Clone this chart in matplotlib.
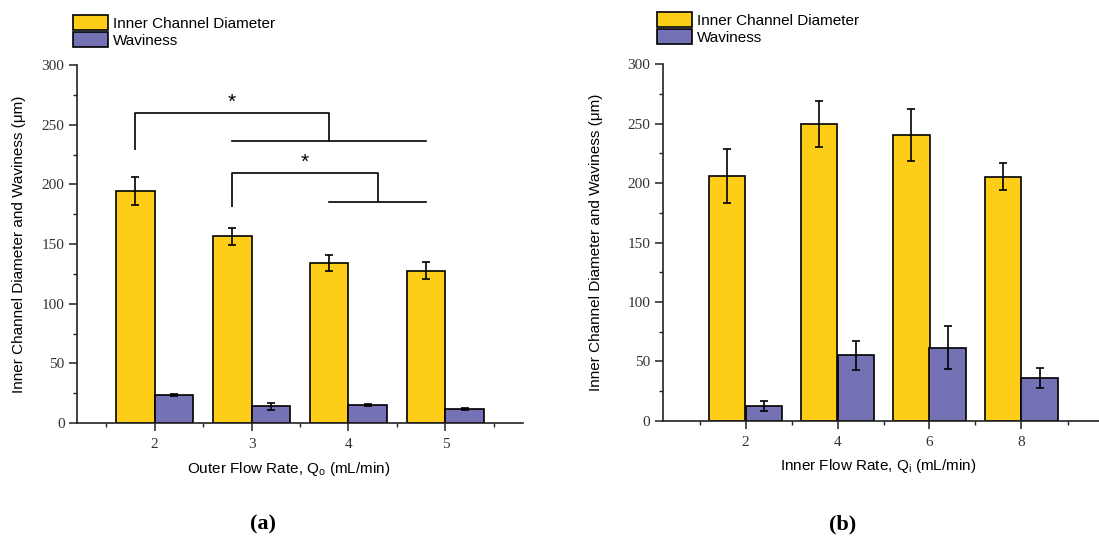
import matplotlib.pyplot as plt
import numpy as np
from matplotlib.ticker import MultipleLocator, FixedLocator

plt.rcParams['font.family'] = 'Liberation Sans'
plt.rcParams['mathtext.default'] = 'regular'

yellow = '#FDCD17'
purple = '#7471B4'

# panel (a): outer flow rate
outer_rate = [2, 3, 4, 5]
diam_a = [194.5, 156.5, 134, 127.5]
diam_a_err = [11.5, 7, 7, 7]
wavy_a = [23.3, 14, 15.2, 11.7]
wavy_a_err = [1, 3, 0.6, 1]

# panel (b): inner flow rate
inner_rate = [2, 4, 6, 8]
diam_b = [205.8, 249.7, 240.5, 205.4]
diam_b_err = [22.7, 19.3, 22, 11.2]
wavy_b = [12.4, 55, 61.5, 36]
wavy_b_err = [4.5, 12.5, 18, 8.5]

# significance brackets in (a)
brackets = [
    dict(x1=1.8, x2=3.8, top=260, left_low=229, grp=(2.8, 4.8), grp_y=236),
    dict(x1=2.8, x2=4.3, top=209.5, left_low=181, grp=(3.8, 4.8), grp_y=185.5),
]

fig = plt.figure(figsize=(10.99, 5.41), dpi=100)
W, H = 1099, 541

def style_axes(ax):
    for s in ['top', 'right']:
        ax.spines[s].set_visible(False)
    for s in ['left', 'bottom']:
        ax.spines[s].set_linewidth(1.2)
        ax.spines[s].set_color('#222222')
    ax.set_ylim(0, 300)
    ax.yaxis.set_major_locator(MultipleLocator(50))
    ax.yaxis.set_minor_locator(MultipleLocator(25))
    ax.tick_params(which='major', length=6, width=1.1, color='#222222',
                   labelsize=11, labelcolor='#333333', pad=3)
    ax.tick_params(which='minor', length=3, width=1.0, color='#222222')
    ax.tick_params(axis='x', which='major', pad=5)
    for lab in ax.get_xticklabels() + ax.get_yticklabels():
        lab.set_fontfamily('Liberation Serif')

def draw_bars(ax, x, d, de, w, we, width):
    x = np.array(x, dtype=float)
    ekw = dict(ecolor='black', elinewidth=1.2, capsize=3.2, capthick=1.2)
    b1 = ax.bar(x - width / 2, d, width, yerr=de, color=yellow,
                edgecolor='black', linewidth=1.2, error_kw=ekw,
                label='Inner Channel Diameter')
    b2 = ax.bar(x + width / 2, w, width, yerr=we, color=purple,
                edgecolor='black', linewidth=1.2, error_kw=ekw,
                label='Waviness')
    return b1, b2

# ---- (a)
ax1 = fig.add_axes([77 / W, (H - 423) / H, 446 / W, 358 / H])
draw_bars(ax1, outer_rate, diam_a, diam_a_err, wavy_a, wavy_a_err, 0.4)
ax1.set_xlim(1.2, 5.8)
ax1.xaxis.set_major_locator(FixedLocator(outer_rate))
ax1.xaxis.set_minor_locator(MultipleLocator(0.5))
style_axes(ax1)
ax1.set_ylabel('Inner Channel Diameter and Waviness (μm)', fontsize=11)
ax1.yaxis.set_label_coords(-0.114, 0.5)
ax1.set_xlabel('Outer Flow Rate, Q$_{o}$ (mL/min)', fontsize=11)
ax1.xaxis.set_label_coords(0.475, -0.103)

for br in brackets:
    ax1.plot([br['x1'], br['x1'], br['x2'], br['x2']],
             [br['left_low'], br['top'], br['top'], br['grp_y']],
             color='black', lw=1.2, solid_capstyle='butt')
    ax1.plot(br['grp'], [br['grp_y'], br['grp_y']], color='black', lw=1.2)
    ax1.text((br['x1'] + br['x2']) / 2, br['top'] + 1, '*', ha='center',
             va='bottom', fontsize=15)

ax1.legend(loc='upper left', bbox_to_anchor=(73 / W, 1 - 15 / H),
           bbox_transform=fig.transFigure, frameon=False, fontsize=11,
           borderpad=0, borderaxespad=0, handlelength=2.3, handleheight=1.1,
           labelspacing=0.1, handletextpad=0.3)

# ---- (b)
ax2 = fig.add_axes([662.7 / W, (H - 420.7) / H, 441.6 / W, 356.4 / H])
draw_bars(ax2, inner_rate, diam_b, diam_b_err, wavy_b, wavy_b_err, 0.8)
ax2.set_xlim(0.2, 9.8)
ax2.xaxis.set_major_locator(FixedLocator(inner_rate))
ax2.xaxis.set_minor_locator(MultipleLocator(1))
style_axes(ax2)
ax2.set_ylabel('Inner Channel Diameter and Waviness (μm)', fontsize=11)
ax2.yaxis.set_label_coords(-0.135, 0.5)
ax2.set_xlabel('Inner Flow Rate, Q$_{i}$ (mL/min)', fontsize=11)
ax2.xaxis.set_label_coords(0.488, -0.103)

ax2.legend(loc='upper left', bbox_to_anchor=(657 / W, 1 - 12 / H),
           bbox_transform=fig.transFigure, frameon=False, fontsize=11,
           borderpad=0, borderaxespad=0, handlelength=2.3, handleheight=1.1,
           labelspacing=0.1, handletextpad=0.3)

fig.text(263 / W, 1 - 524 / H, '(a)', ha='center', va='center',
         fontsize=16, family='Liberation Serif', fontweight='bold')
fig.text(843 / W, 1 - 524 / H, '(b)', ha='center', va='center',
         fontsize=16, family='Liberation Serif', fontweight='bold')

fig.savefig('out.png', dpi=100, facecolor='white')
